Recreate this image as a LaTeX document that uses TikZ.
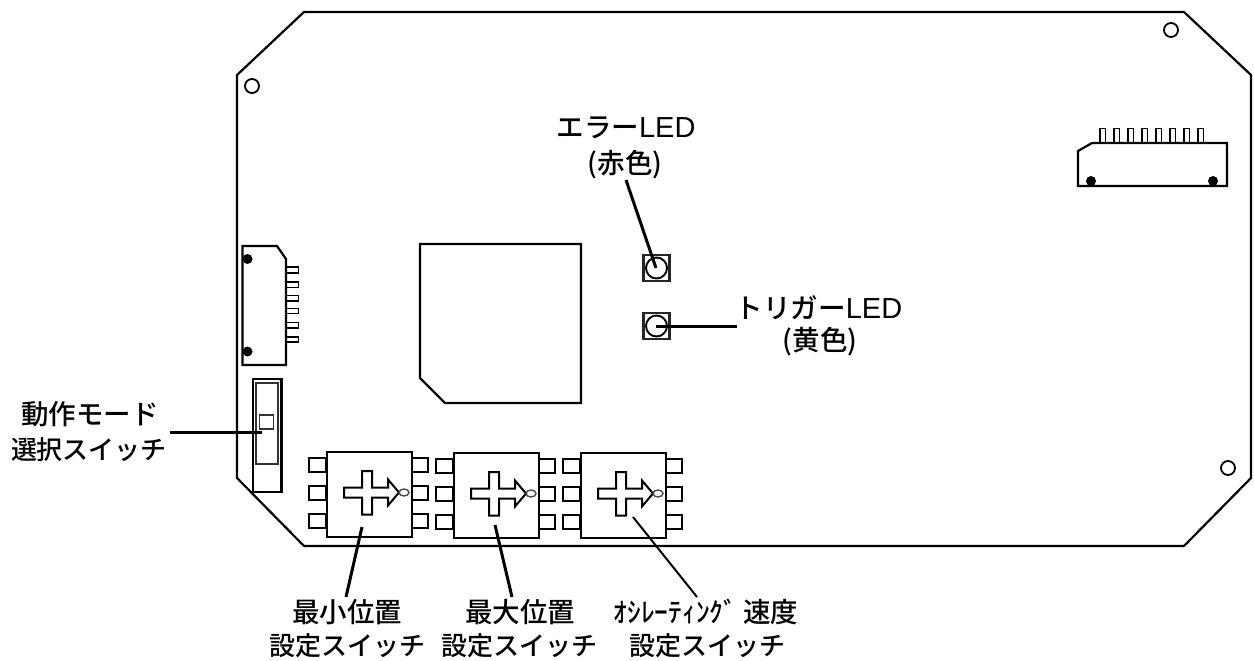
\documentclass[tikz,border=0pt]{standalone}
\usepackage{fontspec}
\setmainfont{Noto Sans CJK JP Medium}
\newfontfamily\latinlbl{Liberation Sans}
\newcommand{\LEDtxt}{{\latinlbl\fontsize{29}{29}\selectfont LED}}
\tikzset{
  ln/.style={draw=black,line width=2.2pt,line join=miter},
  thin ln/.style={draw=black,line width=1.9pt},
  lead/.style={draw=black,line width=3pt},
  leadthin/.style={draw=black,line width=2pt},
  lbl/.style={inner sep=0pt,font=\fontsize{27.5}{27.5}\selectfont,anchor=center},
  lblk/.style={inner sep=0pt,font=\fontsize{26}{26}\selectfont,anchor=center},
  padbox/.style={draw=black,line width=2.3pt,fill=white},
  hole/.style={draw=black,line width=1.8pt,circle,inner sep=0pt,minimum size=14pt},
  dot/.style={fill=black,circle,inner sep=0pt,minimum size=10pt},
}
\begin{document}
\begin{tikzpicture}[x=1pt,y=-1pt]
\useasboundingbox (0,0) rectangle (1254,661);
% board
\draw[ln] (304,12) -- (1184,12) -- (1251,75) -- (1251,478) -- (1184,546) -- (304,546) -- (237,478) -- (237,75) -- cycle;
\node[hole] (h1) at (1171,30) {};
\node[hole] (h2) at (252,86) {};
\node[hole] (h3) at (1228,468) {};
% chip
\draw[ln] (420,244) -- (581,244) -- (581,403) -- (445,403) -- (420,378) -- cycle;
% right connector
\foreach \i in {0,...,7}{
  \draw[thin ln] ({1100+\i*14},143) -- ({1100+\i*14},128.5) -- ({1105.5+\i*14},128.5) -- ({1105.5+\i*14},143);
}
\draw[ln] (1092,143) -- (1227,143) -- (1227,186) -- (1078,186) -- (1078,151) -- cycle;
\node[dot] (d1) at (1091,181) {};
\node[dot] (d2) at (1213,181) {};
% left connector
\foreach \a/\b in {267/273,282/287.5,295.5/301,308.5/313.5,322.5/328,337/342}{
  \draw[thin ln] (286,\a) -- (298.5,\a) -- (298.5,\b) -- (286,\b);
}
\draw[ln] (242.5,246) -- (277,246) -- (286,259) -- (286,365) -- (242.5,365) -- cycle;
\node[dot] (d3) at (247.5,259) {};
\node[dot] (d4) at (247.5,351.5) {};
% mode switch
\draw[ln] (253,379) rectangle (281.5,492);
\draw[draw=black!80,line width=1.9pt] (256,383) rectangle (278,464);
\node[draw=black!80,line width=1.8pt,minimum size=14pt,inner sep=0pt] (modesq) at (266.5,422) {};
% slide switches
\foreach \n/\x/\y in {a/326/451,b/453/452,c/580/452}{
  \begin{scope}[shift={(\x,\y)}]
    \foreach \py in {7,35,63}{
      \draw[padbox] (-17,\py) rectangle (0,{\py+14});
      \draw[padbox] (85,\py) rectangle (102,{\py+14});
    }
    \node[draw=black,line width=2.2pt,fill=white,minimum size=85pt,inner sep=0pt,anchor=north west] (sw\n) at (0,0) {};
    \draw[ln,line width=2pt] (18,36.5) -- (36,36.5) -- (36,20) -- (46,20) -- (46,36.5) -- (62,36.5) -- (62,28.5) -- (73,41.5) -- (62,54.5) -- (62,46.5) -- (46,46.5) -- (46,63.5) -- (36,63.5) -- (36,46.5) -- (18,46.5) -- cycle;
    \draw[draw=black!70,line width=1.4pt] (78,41.5) ellipse (5pt and 3.5pt);
  \end{scope}
}
% LEDs
\node[draw=black!85,line width=2.1pt,minimum size=26pt,inner sep=0pt] (ledr) at (656.5,268) {};
\node[draw=black,line width=1.9pt,circle,minimum size=21pt,inner sep=0pt] (ledrc) at (656.5,268) {};
\node[draw=black!85,line width=2.1pt,minimum size=26pt,inner sep=0pt] (ledy) at (656.5,326) {};
\node[draw=black,line width=1.9pt,circle,minimum size=21pt,inner sep=0pt] (ledyc) at (656.5,326) {};
% labels
\node[lbl] (terr) at (626,128) {エラー\LEDtxt};
\node[lbl] (terr2) at (625,165) {(赤色)};
\node[lbl] (ttrg) at (819,308) {トリガー\LEDtxt};
\node[lbl] (ttrg2) at (820,342) {(黄色)};
\node[lbl] (tmode) at (90,414) {動作モード};
\node[lblk] (tmode2) at (89,450) {選択スイッチ};
\node[lbl] (tmin) at (347,612) {最小位置};
\node[lblk] (tmin2) at (347,646) {設定スイッチ};
\node[lbl] (tmax) at (520,612) {最大位置};
\node[lblk] (tmax2) at (519,646) {設定スイッチ};
\node[lbl] (tosc) at (706,612) {ｵｼﾚｰﾃｨﾝｸﾞ 速度};
\node[lblk] (tosc2) at (707,646) {設定スイッチ};
% leaders
\coordinate (c1) at (626,180);
\coordinate (c2) at (656,268);
\coordinate (c3) at (656,326);
\coordinate (c4) at (737,326);
\coordinate (c5) at (170,432);
\coordinate (c6) at (262,432);
\coordinate (c7) at (362,527);
\coordinate (c8) at (346,597);
\coordinate (c9) at (495,525);
\coordinate (c10) at (512,597);
\coordinate (c11) at (633,517);
\coordinate (c12) at (697,597);
\draw[lead] (c1) -- (c2);
\draw[lead] (c3) -- (c4);
\draw[lead] (c5) -- (c6);
\draw[lead] (c7) -- (c8);
\draw[lead] (c9) -- (c10);
\draw[leadthin] (c11) -- (c12);
\end{tikzpicture}
\end{document}
